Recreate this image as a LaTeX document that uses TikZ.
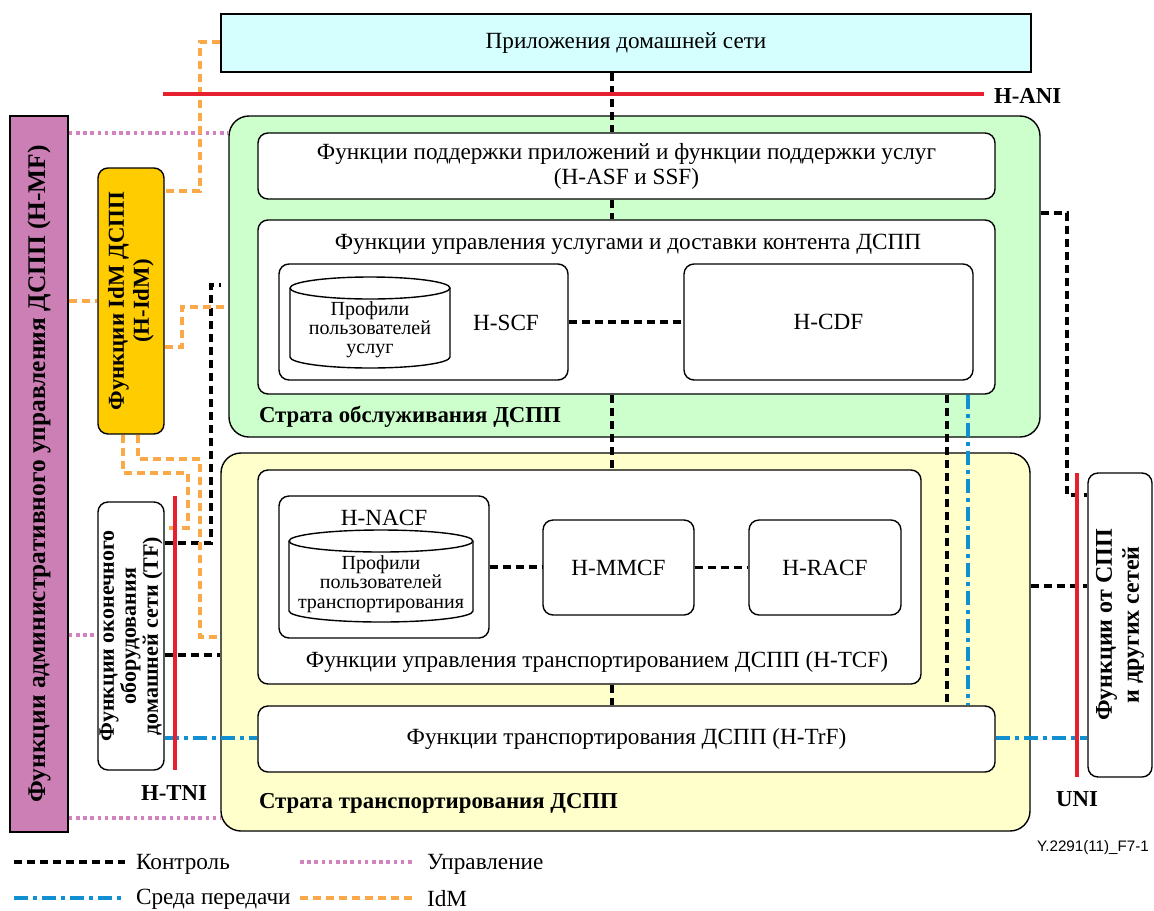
\documentclass[tikz,border=0pt]{standalone}
\usepackage{fontspec}
\setmainfont{Liberation Serif}
\newfontfamily\figsans{Liberation Sans}
\definecolor{appcyan}{RGB}{213,255,255}
\definecolor{mfpink}{RGB}{204,127,181}
\definecolor{idmgold}{RGB}{255,204,0}
\definecolor{srvgreen}{RGB}{204,255,204}
\definecolor{trnyellow}{RGB}{255,255,204}
\definecolor{ifred}{RGB}{230,32,46}
\definecolor{mediablue}{RGB}{16,144,208}
\definecolor{idmorange}{RGB}{250,168,72}
\definecolor{mgmtpink}{RGB}{210,130,190}
\tikzset{
  txt/.style={font=\fontsize{11.6}{12.5}\selectfont},
  cyltxt/.style={font=\fontsize{10}{9.6}\selectfont, align=center},
  btxt/.style={font=\bfseries\fontsize{11.4}{13}\selectfont},
  block/.style={draw, line width=0.7pt, rounded corners=5pt, fill=white, inner sep=0pt},
  stratum/.style={draw, line width=0.7pt, rounded corners=10pt, inner sep=0pt},
  ctrl/.style={line width=1.6pt, dash pattern=on 4pt off 2.5pt},
  mgmt/.style={mgmtpink, line width=1.6pt, dash pattern=on 1.8pt off 1.8pt},
  idm/.style={idmorange, line width=1.6pt, dash pattern=on 4pt off 2.5pt},
  media/.style={mediablue, line width=1.6pt, dash pattern=on 7pt off 2.5pt on 2pt off 2.5pt},
  iface/.style={ifred, line width=1.6pt},
}

\begin{document}
\begin{tikzpicture}[x=0.5pt,y=-0.5pt]
	\useasboundingbox (0,0) rectangle (1154,910);
	% strata
	\node[stratum,fill=srvgreen,minimum width=405.5pt,minimum height=160.5pt] (srv) at (634.5,276.5) {};
	\node[stratum,fill=trnyellow,minimum width=404.5pt,minimum height=189pt] (trn) at (625.5,642) {};
	\node[btxt,anchor=west] (srv-t) at (252,417) {Страта обслуживания ДСПП};
	\node[btxt,anchor=west] (trn-t) at (252,803) {Страта транспортирования ДСПП};
	% applications and management
	\node[draw,line width=0.7pt,fill=appcyan,minimum width=405pt,minimum height=29pt,txt] (app) at (626,43) {Приложения домашней сети};
	\node[draw,line width=0.7pt,fill=mfpink,minimum width=29pt,minimum height=358pt] (hmf) at (39,474) {};
	\node[rotate=90,font=\bfseries\fontsize{12.7}{15}\selectfont] (hmf-t) at (hmf) {Функции административного управления ДСПП (H-MF)};
	\node[block,fill=idmgold,minimum width=33pt,minimum height=133pt] (hidm) at (131,301) {};
	\node[rotate=90,align=center,font=\bfseries\fontsize{11.4}{12.5}\selectfont] (hidm-t) at (hidm) {Функции IdM ДСПП\\(H-IdM)};
	% service stratum
	\node[block,minimum width=368.5pt,minimum height=33pt,align=center,txt] (hasf) at (626.5,166) {Функции поддержки приложений и функции поддержки услуг\\(H-ASF и SSF)};
	\node[block,minimum width=368.5pt,minimum height=87pt] (scdf) at (626.5,307) {};
	\node[txt] (scdf-t) at (628,244) {Функции управления услугами и доставки контента ДСПП};
	\node[block,minimum width=144.5pt,minimum height=58pt] (hscf) at (423.5,322) {};
	\node[block,minimum width=144.5pt,minimum height=58pt,txt] (hcdf) at (828.5,322) {H-CDF};
	\draw[line width=0.7pt,fill=white] (290,288) -- (290,357) arc[start angle=180,end angle=0,x radius=80,y radius=11] -- (450,288) arc[start angle=0,end angle=-180,x radius=80,y radius=11] -- cycle;
	\draw[line width=0.7pt] (290,288) arc[start angle=180,end angle=0,x radius=80,y radius=11];
	\node[cyltxt] (srvprof) at (370,330) {Профили\\пользователей\\услуг};
	\node[txt] (hscf-t) at (506,323) {H-SCF};
	% transport stratum
	\node[block,minimum width=331.5pt,minimum height=107pt] (htcf) at (589.5,577) {};
	\node[txt] (htcf-t) at (597,662) {Функции управления транспортированием ДСПП (H-TCF)};
	\node[block,minimum width=105pt,minimum height=71pt] (hnacf) at (384,567) {};
	\node[txt] (hnacf-t) at (384,518) {H-NACF};
	\draw[line width=0.7pt,fill=white] (289,541) -- (289,611) arc[start angle=180,end angle=0,x radius=92,y radius=11] -- (473,541) arc[start angle=0,end angle=-180,x radius=92,y radius=11] -- cycle;
	\draw[line width=0.7pt] (289,541) arc[start angle=180,end angle=0,x radius=92,y radius=11];
	\node[cyltxt] (trnprof) at (381,584) {Профили\\пользователей\\транспортирования};
	\node[block,minimum width=75.5pt,minimum height=47.5pt,txt] (hmmcf) at (618.5,567.5) {H-MMCF};
	\node[block,minimum width=76pt,minimum height=47.5pt,txt] (hracf) at (825,567.5) {H-RACF};
	\node[block,minimum width=368.5pt,minimum height=33pt,txt] (htrf) at (626.5,739) {Функции транспортирования ДСПП (H-TrF)};
	% terminal and other networks
	\node[block,minimum width=33pt,minimum height=134pt] (tf) at (131,636) {};
	\node[rotate=90,align=center,font=\bfseries\fontsize{11}{11}\selectfont] (tf-t) at (tf) {Функции оконечного\\оборудования\\домашней сети (TF)};
	\node[block,minimum width=32pt,minimum height=152pt] (other) at (1120,625) {};
	\node[rotate=90,align=center,font=\bfseries\fontsize{12}{13.5}\selectfont] (other-t) at (other) {Функции от СПП\\и других сетей};
	% reference points
	\coordinate (ani-w) at (163,94);
	\coordinate (ani-e) at (984,94);
	\coordinate (tni-n) at (175,496);
	\coordinate (tni-s) at (175,770);
	\coordinate (uni-n) at (1077,473);
	\coordinate (uni-s) at (1077,777);
	\coordinate (axis) at (612,0);
	\coordinate (c947) at (947,0);
	\coordinate (m968) at (968,0);
	\coordinate (tfc-1) at (211,543);
	\coordinate (tfc-2) at (211,285);
	\coordinate (tfc-3) at (221,285);
	\coordinate (tfc-4) at (0,655);
	\coordinate (med-y) at (0,738);
	\coordinate (oth-1) at (1067,213);
	\coordinate (oth-2) at (1067,495);
	\coordinate (oth-3) at (0,586);
	\coordinate (mg-1) at (0,133);
	\coordinate (mg-2) at (0,635);
	\coordinate (mg-3) at (0,818);
	\coordinate (idm-1) at (200,42);
	\coordinate (idm-2) at (200,191);
	\coordinate (idm-3) at (0,301);
	\coordinate (idm-4) at (182,347);
	\coordinate (idm-5) at (182,307);
	\coordinate (idm-6) at (123,473);
	\coordinate (idm-7) at (188,473);
	\coordinate (idm-8) at (188,528);
	\coordinate (idm-9) at (138,459);
	\coordinate (idm-10) at (200,459);
	\coordinate (idm-11) at (200,637);
	% control
	\draw[ctrl] (app.south -| axis) -- (hasf.north -| axis);
	\draw[ctrl] (hasf.south -| axis) -- (scdf.north -| axis);
	\draw[ctrl] (scdf.south -| axis) -- (htcf.north -| axis);
	\draw[ctrl] (htcf.south -| axis) -- (htrf.north -| axis);
	\draw[ctrl] (hscf.east) -- (hcdf.west);
	\draw[ctrl] (hnacf.east) -- (hnacf.east -| hmmcf.west);
	\draw[ctrl] (hmmcf.east) -- (hracf.west);
	\draw[ctrl] (scdf.south -| c947) -- (htrf.north -| c947);
	\draw[ctrl] (tf.east |- tfc-1) -- (tfc-1) -- (tfc-2) -- (tfc-3);
	\draw[ctrl] (tf.east |- tfc-4) -- (trn.west |- tfc-4);
	\draw[ctrl] (srv.east |- oth-1) -- (oth-1) -- (oth-2) -- (other.west |- oth-2);
	\draw[ctrl] (trn.east |- oth-3) -- (other.west |- oth-3);
	% transport media
	\draw[media] (scdf.south -| m968) -- (htrf.north -| m968);
	\draw[media] (tf.east |- med-y) -- (htrf.west |- med-y);
	\draw[media] (htrf.east |- med-y) -- (other.west |- med-y);
	% management
	\draw[mgmt] (hmf.east |- mg-1) -- (srv.west |- mg-1);
	\draw[mgmt] (hmf.east |- mg-2) -- (tf.west |- mg-2);
	\draw[mgmt] (hmf.east |- mg-3) -- (trn.west |- mg-3);
	% idm
	\draw[idm] (app.west |- idm-1) -- (idm-1) -- (idm-2) -- (hidm.east |- idm-2);
	\draw[idm] (hmf.east |- idm-3) -- (hidm.west |- idm-3);
	\draw[idm] (hidm.east |- idm-4) -- (idm-4) -- (idm-5) -- (srv.west |- idm-5);
	\draw[idm] (hidm.south -| idm-6) -- (idm-6) -- (idm-7) -- (idm-8) -- (tf.east |- idm-8);
	\draw[idm] (hidm.south -| idm-9) -- (idm-9) -- (idm-10) -- (idm-11) -- (trn.west |- idm-11);
	% interfaces
	\draw[iface] (ani-w) -- (ani-e);
	\draw[iface] (tni-n) -- (tni-s);
	\draw[iface] (uni-n) -- (uni-s);
	\node[btxt,anchor=west] (ani-t) at (987,96) {H-ANI};
	\node[btxt] (tni-t) at (174,793) {H-TNI};
	\node[btxt] (uni-t) at (1077,799) {UNI};
	% legend
	\coordinate (lg-1) at (14,862);
	\coordinate (lg-2) at (125,862);
	\coordinate (lg-3) at (300,862);
	\coordinate (lg-4) at (415,862);
	\coordinate (lg-5) at (14,898);
	\coordinate (lg-6) at (125,898);
	\coordinate (lg-7) at (300,898);
	\coordinate (lg-8) at (415,898);
	\draw[ctrl] (lg-1) -- (lg-2);
	\draw[mgmt] (lg-3) -- (lg-4);
	\draw[media] (lg-5) -- (lg-6);
	\draw[idm] (lg-7) -- (lg-8);
	\node[txt,anchor=west] (lg-ctrl) at (129,864) {Контроль};
	\node[txt,anchor=west] (lg-mgmt) at (420,864) {Управление};
	\node[txt,anchor=west] (lg-media) at (129,899) {Среда передачи};
	\node[txt,anchor=west] (lg-idm) at (420,899) {IdM};
	\node[anchor=east,font=\figsans\fontsize{7.6}{9}\selectfont] (fig-id) at (1156,848) {Y.2291(11)\_F7-1};
\end{tikzpicture}
\end{document}
